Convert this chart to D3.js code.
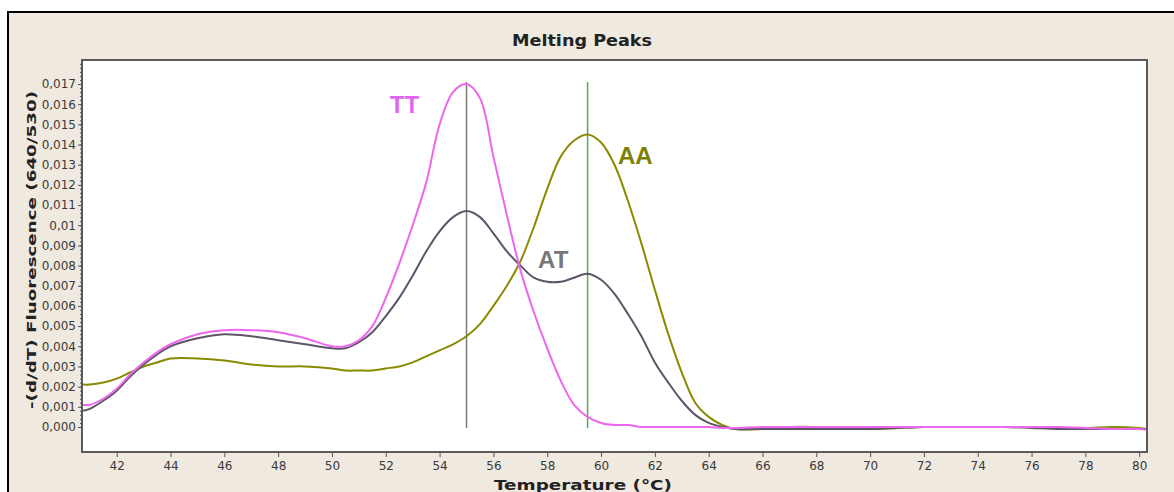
<!DOCTYPE html>
<html>
<head>
<meta charset="utf-8">
<script src="https://cdn.jsdelivr.net/npm/d3@7"></script>
<style>
  html, body { margin: 0; padding: 0; background: #ffffff; }
  svg { display: block; font-family: "DejaVu Sans", "Liberation Sans", Arial, sans-serif; }
</style>
</head>
<body>
<div id="chart"></div>
<script>
"use strict";
// melting peak curves
const temps = [40.75, 41, 41.5, 42, 42.5, 43, 43.5, 44, 45, 46, 47, 48, 49, 50, 50.5, 51, 51.5, 52, 52.5, 53,
  53.5, 54, 54.5, 55, 55.5, 56, 56.5, 57, 57.5, 58, 58.5, 59, 59.5, 60, 60.5, 61, 61.5, 62, 62.5, 63,
  63.5, 64, 64.5, 65, 66, 67, 68, 69, 70, 71, 72, 73, 74, 75, 76, 77, 78, 79, 80, 80.3];
const ttValues = [0.0011, 0.0011, 0.0014, 0.0019, 0.0026, 0.0032, 0.0037, 0.0041, 0.0046, 0.0048, 0.0048, 0.0047, 0.0044, 0.0040, 0.0040, 0.0043, 0.0050, 0.0064, 0.0081, 0.0100,
  0.0121, 0.0150, 0.0166, 0.0170, 0.0163, 0.0134, 0.0105, 0.0078, 0.0057, 0.0039, 0.0023, 0.0011, 0.0005, 0.0002, 0.0001, 0.0001, 0.0000, 0.0000, 0.0000, 0.0000,
  0.0000, 0.0000, -0.00005, -0.00005, 0.0000, 0.0000, 0.0000, 0.0000, 0.0000, 0.0000, 0.0000, 0.0000, 0.0000, 0.0000, 0.0000, 0.0000, -0.00005, -0.0001, -0.0001, -0.00015];
const atValues = [0.0008, 0.0009, 0.0013, 0.0018, 0.0025, 0.0031, 0.0036, 0.0040, 0.0044, 0.0046, 0.0045, 0.0043, 0.0041, 0.0039, 0.0039, 0.0042, 0.0047, 0.0055, 0.0064, 0.0075,
  0.0087, 0.0097, 0.0104, 0.0107, 0.0104, 0.0096, 0.0087, 0.0080, 0.0074, 0.0072, 0.0072, 0.0074, 0.0076, 0.0073, 0.0066, 0.0056, 0.0045, 0.0032, 0.0022, 0.0013,
  0.0006, 0.0002, 0.0000, -0.0001, -0.0001, -0.0001, -0.0001, -0.0001, -0.0001, -0.00005, 0.0000, 0.0000, 0.0000, 0.0000, -0.00005, -0.0001, -0.0001, -0.0001, -0.0001, -0.0001];
const aaValues = [0.0021, 0.0021, 0.0022, 0.0024, 0.0027, 0.0030, 0.0032, 0.0034, 0.0034, 0.0033, 0.0031, 0.0030, 0.0030, 0.0029, 0.0028, 0.0028, 0.0028, 0.0029, 0.0030, 0.0032,
  0.0035, 0.0038, 0.0041, 0.0045, 0.0051, 0.0060, 0.0070, 0.0082, 0.0099, 0.0118, 0.0134, 0.0142, 0.0145, 0.0141, 0.0130, 0.0112, 0.0091, 0.0068, 0.0046, 0.0027,
  0.0012, 0.0005, 0.0001, -0.0001, -0.0001, 0.0000, 0.0000, -0.00005, -0.0001, -0.00005, 0.0000, 0.0000, 0.0000, 0.0000, 0.0000, -0.00005, -0.00005, 0.0000, -0.00005, -0.0001];

const seriesNames = ["AA", "AT", "TT"];
const seriesColors = ["#8a8a00", "#5e5468", "#ee66ee"];
const labelColors = ["#808000", "#777777", "#e266f2"];
const markerTemps = [55, 59.5];
const markerColors = ["#7a7a7a", "#4caf50"];

const xTicks = [42, 44, 46, 48, 50, 52, 54, 56, 58, 60, 62, 64, 66, 68, 70, 72, 74, 76, 78, 80];
const yTicks = [0, 0.001, 0.002, 0.003, 0.004, 0.005, 0.006, 0.007, 0.008, 0.009, 0.01, 0.011, 0.012, 0.013, 0.014, 0.015, 0.016, 0.017];
const yTickLabels = ["0,000", "0,001", "0,002", "0,003", "0,004", "0,005", "0,006", "0,007", "0,008", "0,009", "0,01", "0,011", "0,012", "0,013", "0,014", "0,015", "0,016", "0,017"];

const W = 1174, H = 492;
const plot = { left: 82, right: 1147, top: 60, bottom: 452 };

const svg = d3.select("#chart").append("svg")
  .attr("width", W)
  .attr("height", H);

// outer panel (cut off at right and bottom)
svg.append("rect")
  .attr("x", 8).attr("y", 12)
  .attr("width", W + 10).attr("height", H + 10)
  .attr("fill", "#efe9e0")
  .attr("stroke", "#000").attr("stroke-width", 2);

svg.append("rect")
  .attr("x", plot.left).attr("y", plot.top)
  .attr("width", plot.right - plot.left).attr("height", plot.bottom - plot.top)
  .attr("fill", "#fff");

const x = d3.scaleLinear().domain([40.71, 80.29]).range([plot.left, plot.right]);
const y = d3.scaleLinear().domain([-0.00124, 0.01819]).range([plot.bottom, plot.top]);

svg.append("clipPath").attr("id", "clip")
  .append("rect")
  .attr("x", plot.left).attr("y", plot.top)
  .attr("width", plot.right - plot.left).attr("height", plot.bottom - plot.top);

const g = svg.append("g").attr("clip-path", "url(#clip)");

// marker lines at the peaks
g.selectAll("line.marker")
  .data(markerTemps)
  .enter()
  .append("line")
  .attr("class", "marker")
  .attr("x1", d => x(d)).attr("x2", d => x(d))
  .attr("y1", y(0.0171)).attr("y2", y(-0.00005))
  .attr("stroke", (d, i) => markerColors[i])
  .attr("stroke-width", 1.5);

const line = d3.line()
  .x((d, i) => x(temps[i]))
  .y(d => y(d))
  .curve(d3.curveCatmullRom.alpha(0.5));

const allSeries = [aaValues, atValues, ttValues];
g.selectAll("path.curve")
  .data(allSeries)
  .enter()
  .append("path")
  .attr("class", "curve")
  .attr("d", d => line(d))
  .attr("fill", "none")
  .attr("stroke", (d, i) => seriesColors[i])
  .attr("stroke-width", 2);

// series labels
const labelPos = [[60.63, 0.01303], [57.66, 0.00788], [52.15, 0.01556]];
svg.selectAll("text.series")
  .data(seriesNames)
  .enter()
  .append("text")
  .attr("class", "series")
  .attr("x", (d, i) => x(labelPos[i][0]))
  .attr("y", (d, i) => y(labelPos[i][1]))
  .attr("font-family", "'Liberation Sans', Arial, sans-serif")
  .attr("font-size", 24)
  .attr("font-weight", "bold")
  .attr("fill", (d, i) => labelColors[i])
  .text(d => d);

// plot frame
svg.append("rect")
  .attr("x", plot.left).attr("y", plot.top)
  .attr("width", plot.right - plot.left).attr("height", plot.bottom - plot.top)
  .attr("fill", "none")
  .attr("stroke", "#5a5a5a").attr("stroke-width", 2);

// axes
const xAxis = svg.append("g")
  .attr("transform", `translate(0,${plot.bottom})`)
  .call(d3.axisBottom(x).tickValues(xTicks).tickSize(5).tickPadding(4).tickFormat(d3.format("d")));
const yMinor = svg.append("g")
  .attr("transform", `translate(${plot.left},0)`)
  .call(d3.axisLeft(y).tickValues(d3.range(0, 0.01801, 0.0002)).tickSize(2).tickFormat(""));
const yAxis = svg.append("g")
  .attr("transform", `translate(${plot.left},0)`)
  .call(d3.axisLeft(y).tickValues(yTicks).tickSize(4).tickPadding(2).tickFormat((d, i) => yTickLabels[i]));

[xAxis, yAxis, yMinor].forEach(a => {
  a.select(".domain").remove();
  a.selectAll("line").attr("stroke", "#555");
  a.selectAll("text")
    .attr("fill", "#3a3a3a")
    .attr("font-size", 12)
    .attr("font-family", "'DejaVu Sans', sans-serif");
});

// titles
svg.append("text")
  .attr("x", 582).attr("y", 46)
  .attr("text-anchor", "middle")
  .attr("font-size", 16).attr("font-weight", "bold").attr("fill", "#222")
  .attr("textLength", 140).attr("lengthAdjust", "spacingAndGlyphs")
  .text("Melting Peaks");

svg.append("text")
  .attr("x", 583).attr("y", 490)
  .attr("text-anchor", "middle")
  .attr("font-size", 14).attr("font-weight", "bold").attr("fill", "#222")
  .attr("textLength", 178).attr("lengthAdjust", "spacingAndGlyphs")
  .text("Temperature (°C)");

svg.append("text")
  .attr("transform", `translate(36,250) rotate(-90)`)
  .attr("text-anchor", "middle")
  .attr("font-size", 12).attr("font-weight", "bold").attr("fill", "#222")
  .attr("textLength", 318).attr("lengthAdjust", "spacingAndGlyphs")
  .text("-(d/dT) Fluorescence (640/530)");
</script>
</body>
</html>
